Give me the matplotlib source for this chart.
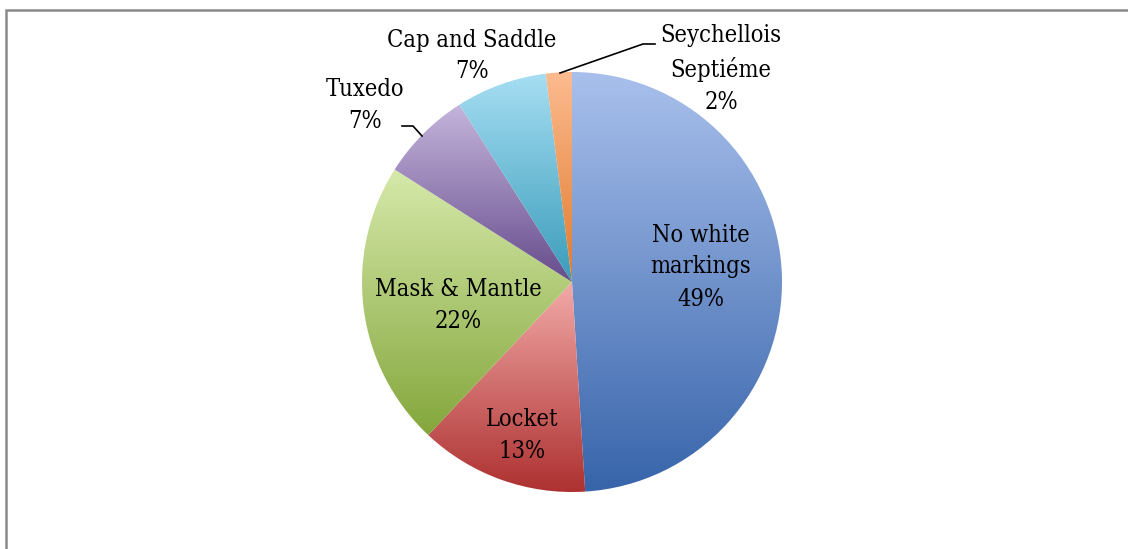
import numpy as np
import matplotlib.pyplot as plt
from matplotlib.colors import LinearSegmentedColormap

labels = ['No white\nmarkings', 'Locket', 'Mask & Mantle', 'Tuxedo',
          'Cap and Saddle', 'Seychellois\nSeptiéme']
values = [49, 13, 22, 7, 7, 2]
top_colors = ['#a9c0ec', '#f2aaa8', '#d6e9aa', '#c5b5dc', '#a6def3', '#fcbb90']
bot_colors = ['#3764aa', '#ad3130', '#84a73c', '#664c8c', '#3a9cba', '#e07a2c']

W, H = 1128, 549
fig = plt.figure(figsize=(W / 100, H / 100), dpi=100)

cx, cy, r = 572, 282, 210
ax = fig.add_axes([(cx - r) / W, (H - cy - r) / H, 2 * r / W, 2 * r / H])
ax.set_xlim(-1, 1)
ax.set_ylim(-1, 1)
ax.axis('off')

wedges, _ = ax.pie(values, radius=1, startangle=90, counterclock=False,
                   wedgeprops=dict(linewidth=0))

grad = np.linspace(0, 1, 256).reshape(-1, 1)
for w, c0, c1 in zip(wedges, top_colors, bot_colors):
    w.set_facecolor('none')
    cmap = LinearSegmentedColormap.from_list('g', [c0, c1])
    # bounding box of the wedge in data coords
    th = np.radians(np.linspace(w.theta1, w.theta2, 100))
    xs = np.concatenate([[0], np.cos(th)])
    ys = np.concatenate([[0], np.sin(th)])
    im = ax.imshow(grad, cmap=cmap, aspect='auto', interpolation='bicubic',
                   extent=[xs.min(), xs.max(), ys.min(), ys.max()],
                   origin='upper', zorder=1)
    im.set_clip_path(w)

ax.set_xlim(-1, 1)
ax.set_ylim(-1, 1)

# overlay in pixel coords for frame, labels and leader lines
top = fig.add_axes([0, 0, 1, 1])
top.set_xlim(0, W)
top.set_ylim(H, 0)
top.axis('off')
top.patch.set_alpha(0)
top.plot([6, 6, W + 5], [H + 5, 10, 10], color='#8a8a8a', lw=1.8,
         solid_joinstyle='miter')

font = dict(family='DejaVu Serif', stretch='condensed', fontsize=17,
            ha='center', va='center', linespacing=1.5)
pct = [f'{v}%' for v in values]

pos = [(701, 267), (522, 436), (458, 306), (365, 105), (472, 56), (721, 69)]
for lab, p, (x, y) in zip(labels, pct, pos):
    top.text(x, y, f'{lab}\n{p}', **font)

top.plot([402, 413, 422], [126, 126, 136], color='black', lw=1.2)
top.plot([560, 643, 655], [73, 44, 44], color='black', lw=1.2)

fig.savefig('out.png', dpi=100)
